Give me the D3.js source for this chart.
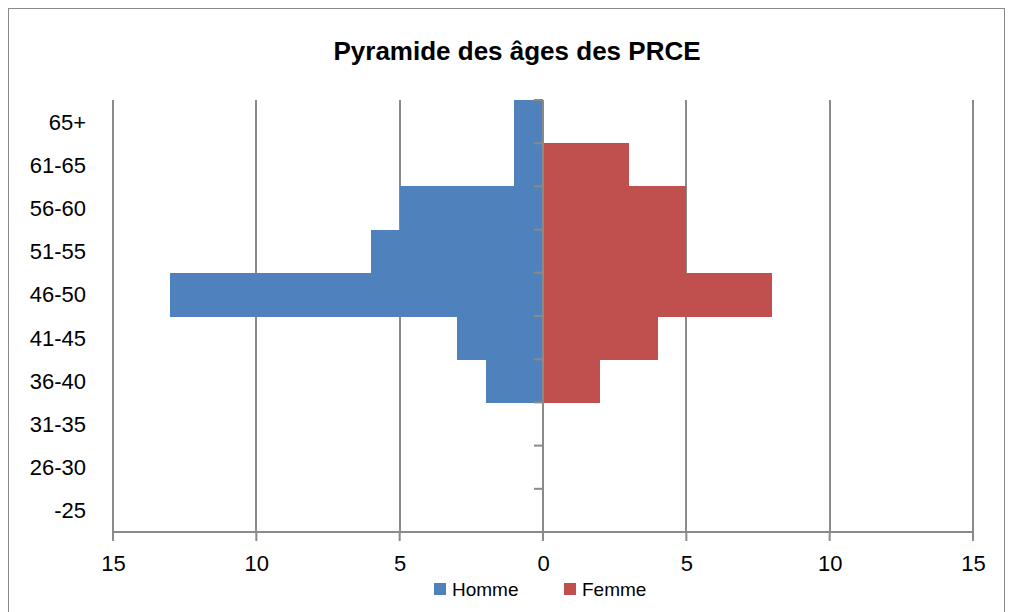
<!DOCTYPE html>
<html lang="fr">
<head>
<meta charset="UTF-8">
<title>Pyramide des âges des PRCE</title>
<style>
  body { margin: 0; background: #fff; }
  svg text { font-family: "Liberation Sans", Arial, sans-serif; fill: #000; }
</style>
</head>
<body>
<div id="container"></div>
<script src="https://d3js.org/d3.v7.min.js"></script>
<script>
// data
var categories = ["65+", "61-65", "56-60", "51-55", "46-50", "41-45", "36-40", "31-35", "26-30", "-25"];
var homme = [1, 1, 5, 6, 13, 3, 2, 0, 0, 0];
var femme = [0, 3, 5, 5, 8, 4, 2, 0, 0, 0];
var xTicks = [-15, -10, -5, 0, 5, 10, 15];
var seriesNames = ["Homme", "Femme"];
var colors = ["#4F81BD", "#C0504D"];

var W = 1010, H = 612;
var plot = {left: 113, right: 973, top: 100, bottom: 532};
var grey = "#8a8a8a";

var svg = d3.select("#container").append("svg")
    .attr("width", W)
    .attr("height", H);

// outer chart border
svg.append("rect")
    .attr("x", 8.5).attr("y", 8.5)
    .attr("width", 996).attr("height", 620)
    .attr("fill", "none")
    .attr("stroke", grey);

svg.append("text")
    .attr("x", 517).attr("y", 60)
    .attr("text-anchor", "middle")
    .attr("font-size", 26)
    .attr("font-weight", "bold")
    .text("Pyramide des âges des PRCE");

var x = d3.scaleLinear().domain([-15, 15]).range([plot.left, plot.right]);
var y = d3.scaleBand().domain(categories).range([plot.top, plot.bottom]).padding(0);

// vertical gridlines
svg.append("g").selectAll("line")
    .data(xTicks)
    .enter().append("line")
    .attr("x1", function(d) { return Math.round(x(d)); })
    .attr("x2", function(d) { return Math.round(x(d)); })
    .attr("y1", plot.top)
    .attr("y2", plot.bottom)
    .attr("stroke", grey)
    .attr("stroke-width", 2);

// bars
var rows = categories.map(function(c, i) { return {cat: c, h: homme[i], f: femme[i]}; });

svg.append("g").attr("shape-rendering", "crispEdges").selectAll("rect")
    .data(rows)
    .enter().append("rect")
    .attr("x", function(d) { return x(-d.h); })
    .attr("y", function(d) { return y(d.cat); })
    .attr("width", function(d) { return x(0) - x(-d.h); })
    .attr("height", y.bandwidth() + 0.5)
    .attr("fill", colors[0]);

svg.append("g").attr("shape-rendering", "crispEdges").selectAll("rect")
    .data(rows)
    .enter().append("rect")
    .attr("x", x(0))
    .attr("y", function(d) { return y(d.cat); })
    .attr("width", function(d) { return x(d.f) - x(0); })
    .attr("height", y.bandwidth() + 0.5)
    .attr("fill", colors[1]);

// bottom axis
var xAxis = svg.append("g")
    .attr("transform", "translate(0," + plot.bottom + ")")
    .call(d3.axisBottom(x).tickValues(xTicks).tickSize(9).tickPadding(14)
        .tickFormat(function(d) { return Math.abs(d); }));
xAxis.select(".domain").attr("stroke", grey).attr("stroke-width", 2)
    .attr("d", "M" + plot.left + ",0H" + plot.right);
xAxis.selectAll(".tick line").attr("stroke", grey).attr("stroke-width", 2)
    .attr("transform", function() { return "translate(" + (-0.5) + ",0)"; });
xAxis.selectAll(".tick text")
    .attr("font-size", 22)
    .style("font-family", "'Liberation Sans', Arial, sans-serif");

// center vertical axis with category ticks
var cx = Math.round(x(0));
svg.append("line")
    .attr("x1", cx).attr("x2", cx)
    .attr("y1", plot.top).attr("y2", plot.bottom + 6)
    .attr("stroke", grey).attr("stroke-width", 2);

var bounds = categories.map(function(c) { return y(c); }).concat([plot.bottom]);
svg.append("g").selectAll("line")
    .data(bounds)
    .enter().append("line")
    .attr("x1", cx - 9).attr("x2", cx)
    .attr("y1", function(d) { return d; })
    .attr("y2", function(d) { return d; })
    .attr("stroke", grey).attr("stroke-width", 2);

// category labels on the low side
svg.append("g").selectAll("text")
    .data(categories)
    .enter().append("text")
    .attr("x", 86)
    .attr("y", function(d) { return y(d) + y.bandwidth() / 2; })
    .attr("dy", "0.36em")
    .attr("text-anchor", "end")
    .attr("font-size", 22)
    .text(function(d) { return d; });

// legend
var legendX = [434, 564];
var legend = svg.append("g").selectAll("g")
    .data(seriesNames)
    .enter().append("g")
    .attr("transform", function(d, i) { return "translate(" + legendX[i] + ",583)"; });

legend.append("rect")
    .attr("width", 12).attr("height", 12)
    .attr("fill", function(d, i) { return colors[i]; });

legend.append("text")
    .attr("x", 18).attr("y", 6)
    .attr("dy", "0.36em")
    .attr("font-size", 19)
    .text(function(d) { return d; });
</script>
</body>
</html>
